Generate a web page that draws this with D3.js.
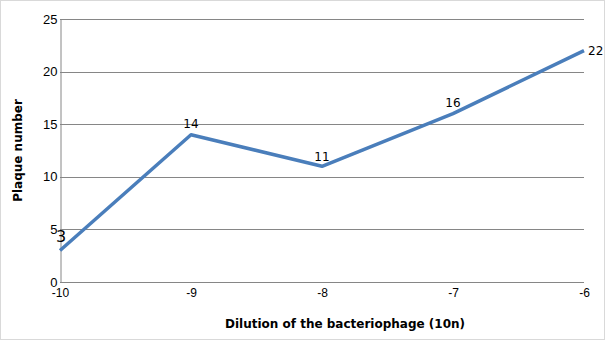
<!DOCTYPE html>
<html>
<head>
<meta charset="utf-8">
<script src="https://cdn.jsdelivr.net/npm/d3@7"></script>
<style>
  body { margin: 0; background: #fff; }
  svg { display: block; font-family: "DejaVu Sans", sans-serif; }
</style>
</head>
<body>
<div id="chart"></div>
<script>
// dilution exponents and plaque counts
const dilutions = [-10, -9, -8, -7, -6]
const plaques = [3, 14, 11, 16, 22]
const yTicks = [0, 5, 10, 15, 20, 25]

const width = 605
const height = 340
const margin = { top: 19, right: 21, bottom: 58, left: 60 }

const svg = d3
  .select("#chart")
  .append("svg")
  .attr("width", width)
  .attr("height", height)

// chart frame
svg
  .append("rect")
  .attr("x", 0.5)
  .attr("y", 0.5)
  .attr("width", width - 1)
  .attr("height", height - 1)
  .attr("fill", "#fff")
  .attr("stroke", "#d9d9d9")

const x = d3
  .scaleLinear()
  .domain([-10, -6])
  .range([margin.left, width - margin.right])

const y = d3
  .scaleLinear()
  .domain([0, 25])
  .range([height - margin.bottom, margin.top])

// horizontal gridlines
svg
  .append("g")
  .selectAll("line")
  .data(yTicks)
  .join("line")
  .attr("x1", x(-10))
  .attr("x2", x(-6))
  .attr("y1", (d) => Math.round(y(d)) + 0.5)
  .attr("y2", (d) => Math.round(y(d)) + 0.5)
  .attr("stroke", "#868686")

// y axis
const yAxis = svg
  .append("g")
  .attr("transform", `translate(${x(-10) + 0.5},0)`)
  .call(d3.axisLeft(y).tickValues(yTicks).tickSize(0).tickPadding(3))
yAxis.select(".domain").attr("stroke", "#868686")
yAxis.selectAll("text").attr("font-size", 13).attr("fill", "#000")

// x axis (plain hyphen minus like the original)
const xAxis = svg
  .append("g")
  .attr("transform", `translate(0,${Math.round(y(0)) + 0.5})`)
  .call(
    d3
      .axisBottom(x)
      .tickValues(dilutions)
      .tickFormat((d) => String(d))
      .tickSize(0)
      .tickPadding(6)
  )
xAxis.select(".domain").remove()
xAxis.selectAll("text").attr("font-size", 12).attr("fill", "#000")

// series line
svg
  .append("path")
  .datum(dilutions.map((d, i) => [d, plaques[i]]))
  .attr("fill", "none")
  .attr("stroke", "#4a7ebb")
  .attr("stroke-width", 3.5)
  .attr("stroke-linejoin", "round")
  .attr("d", d3.line().x((d) => x(d[0])).y((d) => y(d[1])))

// data labels (positions follow the reference's manual placement)
const labelOffsets = [
  { dx: 1, dy: -8, size: 16, anchor: "middle" },
  { dx: 0, dy: -7, size: 12, anchor: "middle" },
  { dx: 0, dy: -5, size: 12, anchor: "middle" },
  { dx: 0, dy: -7, size: 12, anchor: "middle" },
  { dx: 4, dy: 4, size: 12, anchor: "start" },
]
svg
  .append("g")
  .selectAll("text")
  .data(plaques)
  .join("text")
  .attr("x", (d, i) => x(dilutions[i]) + labelOffsets[i].dx)
  .attr("y", (d, i) => y(d) + labelOffsets[i].dy)
  .attr("text-anchor", (d, i) => labelOffsets[i].anchor)
  .attr("font-size", (d, i) => labelOffsets[i].size)
  .text((d) => d)

// axis titles
svg
  .append("text")
  .attr("x", 345)
  .attr("y", 328)
  .attr("text-anchor", "middle")
  .attr("font-size", 12)
  .attr("font-weight", "bold")
  .text("Dilution of the bacteriophage (10n)")

svg
  .append("text")
  .attr("transform", `translate(22,${(margin.top + height - margin.bottom) / 2}) rotate(-90)`)
  .attr("text-anchor", "middle")
  .attr("font-size", 12)
  .attr("font-weight", "bold")
  .text("Plaque number")
</script>
</body>
</html>
